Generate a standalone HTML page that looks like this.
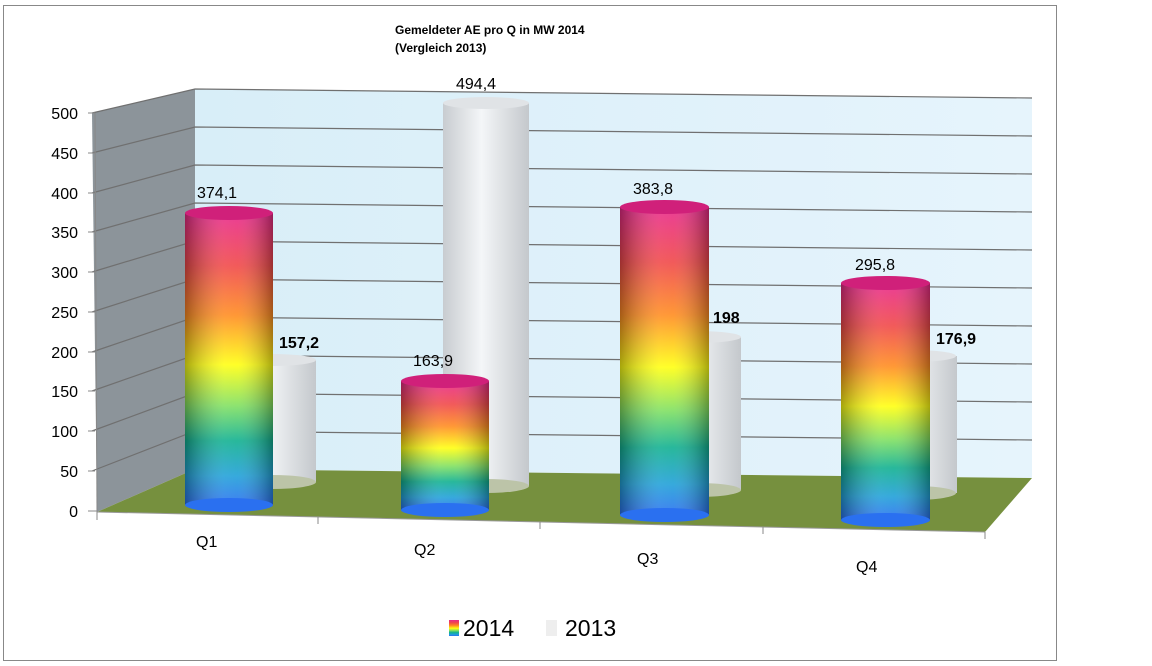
<!DOCTYPE html>
<html><head><meta charset="utf-8"><style>
body{margin:0;background:#fff;}
svg{display:block;font-family:"Liberation Sans",sans-serif;}
</style></head><body>
<svg width="1152" height="666" viewBox="0 0 1152 666">
<defs>
<linearGradient id="rb" x1="0" y1="0" x2="0" y2="1">
<stop offset="0" stop-color="#e8288a"/>
<stop offset="0.18" stop-color="#f04848"/>
<stop offset="0.35" stop-color="#ff8c20"/>
<stop offset="0.52" stop-color="#ffff10"/>
<stop offset="0.66" stop-color="#80e060"/>
<stop offset="0.78" stop-color="#10b090"/>
<stop offset="0.9" stop-color="#20a0d8"/>
<stop offset="1" stop-color="#2a70f0"/>
</linearGradient>
<linearGradient id="sh" x1="0" y1="0" x2="1" y2="0">
<stop offset="0" stop-color="#000" stop-opacity="0.35"/>
<stop offset="0.45" stop-color="#fff" stop-opacity="0.12"/>
<stop offset="0.6" stop-color="#fff" stop-opacity="0.1"/>
<stop offset="1" stop-color="#000" stop-opacity="0.35"/>
</linearGradient>
<linearGradient id="gr" x1="0" y1="0" x2="1" y2="0">
<stop offset="0" stop-color="#c8ccd0"/>
<stop offset="0.45" stop-color="#f4f6f8"/>
<stop offset="1" stop-color="#c4c8cc"/>
</linearGradient>
<linearGradient id="bw" x1="0" y1="0" x2="1" y2="0">
<stop offset="0" stop-color="#d8eef8"/>
<stop offset="1" stop-color="#e6f4fc"/>
</linearGradient>
</defs>
<rect x="3.5" y="5.5" width="1053" height="655" fill="#fff" stroke="#888" stroke-width="1"/>
<text x="395" y="34" font-size="12" font-weight="bold">Gemeldeter AE  pro Q in MW 2014</text>
<text x="395" y="52" font-size="12" font-weight="bold">(Vergleich 2013)</text>
<!-- back wall -->
<polygon points="195,89 1032,98 1032,478 195,469" fill="url(#bw)"/>
<!-- side wall -->
<polygon points="92,113 195,89 195,469 97,512" fill="#8c949a"/>
<!-- floor -->
<polygon points="97,512 195,469 1032,478 985,532" fill="#76903e"/>
<line x1="97" y1="512" x2="985" y2="532" stroke="#999" stroke-width="1"/>
<g stroke="#707070" stroke-width="1.2" fill="none">
<polyline points="92,113 195,89 1032,98"/>
<polyline points="92,153 195,127 1032,136"/>
<polyline points="92,193 195,165 1032,174"/>
<polyline points="92,232 195,203 1032,212"/>
<polyline points="92,272 195,241 1032,250"/>
<polyline points="92,312 195,279 1032,288"/>
<polyline points="92,352 195,317 1032,326"/>
<polyline points="92,391 195,355 1032,364"/>
<polyline points="92,431 195,393 1032,402"/>
<polyline points="92,471 195,431 1032,440"/>
</g>
<line x1="95" y1="113" x2="97" y2="512" stroke="#888"/>
<g stroke="#888"><line x1="88" y1="113" x2="95" y2="113"/><line x1="88" y1="153" x2="95" y2="153"/><line x1="88" y1="193" x2="95" y2="193"/><line x1="88" y1="232" x2="95" y2="232"/><line x1="88" y1="272" x2="95" y2="272"/><line x1="88" y1="312" x2="95" y2="312"/><line x1="88" y1="352" x2="95" y2="352"/><line x1="88" y1="391" x2="95" y2="391"/><line x1="88" y1="431" x2="95" y2="431"/><line x1="88" y1="471" x2="95" y2="471"/><line x1="88" y1="511" x2="97" y2="511"/>
<line x1="97" y1="512" x2="97" y2="520"/><line x1="318" y1="517" x2="318" y2="524"/><line x1="540" y1="522" x2="540" y2="529"/><line x1="763" y1="527" x2="763" y2="534"/><line x1="985" y1="532" x2="985" y2="539"/></g>
<g font-size="16" text-anchor="end" fill="#000">
<text x="78" y="119">500</text><text x="78" y="159">450</text><text x="78" y="199">400</text><text x="78" y="238">350</text><text x="78" y="278">300</text><text x="78" y="318">250</text><text x="78" y="358">200</text><text x="78" y="397">150</text><text x="78" y="437">100</text><text x="78" y="477">50</text><text x="78" y="517">0</text>
</g>
<!-- 2013 cylinders -->
<g>
<rect x="228" y="360" width="88" height="122" fill="url(#gr)"/><ellipse cx="272" cy="482" rx="44" ry="7" fill="#bcc4a8"/><ellipse cx="272" cy="360" rx="44" ry="6" fill="#e0e3e6"/>
<rect x="443" y="103" width="86" height="383" fill="url(#gr)"/><ellipse cx="486" cy="486" rx="43" ry="7" fill="#bcc4a8"/><ellipse cx="486" cy="103" rx="43" ry="6" fill="#e0e3e6"/>
<rect x="653" y="337" width="88" height="153" fill="url(#gr)"/><ellipse cx="697" cy="490" rx="44" ry="7" fill="#bcc4a8"/><ellipse cx="697" cy="337" rx="44" ry="6" fill="#e0e3e6"/>
<rect x="870" y="356" width="87" height="137" fill="url(#gr)"/><ellipse cx="913" cy="493" rx="43" ry="7" fill="#bcc4a8"/><ellipse cx="913" cy="356" rx="43" ry="6" fill="#e0e3e6"/>
</g>
<!-- 2014 cylinders -->
<g>
<rect x="185" y="213" width="88" height="292" fill="url(#rb)"/><rect x="185" y="213" width="88" height="292" fill="url(#sh)"/><ellipse cx="229" cy="505" rx="44" ry="7" fill="#2a70f0"/><ellipse cx="229" cy="213" rx="44" ry="7" fill="#d0207a"/>
<rect x="401" y="381" width="88" height="129" fill="url(#rb)"/><rect x="401" y="381" width="88" height="129" fill="url(#sh)"/><ellipse cx="445" cy="510" rx="44" ry="7" fill="#2a70f0"/><ellipse cx="445" cy="381" rx="44" ry="7" fill="#d0207a"/>
<rect x="620" y="207" width="89" height="308" fill="url(#rb)"/><rect x="620" y="207" width="89" height="308" fill="url(#sh)"/><ellipse cx="664.5" cy="515" rx="44.5" ry="7" fill="#2a70f0"/><ellipse cx="664.5" cy="207" rx="44.5" ry="7" fill="#d0207a"/>
<rect x="841" y="283" width="89" height="237" fill="url(#rb)"/><rect x="841" y="283" width="89" height="237" fill="url(#sh)"/><ellipse cx="885.5" cy="520" rx="44.5" ry="7" fill="#2a70f0"/><ellipse cx="885.5" cy="283" rx="44.5" ry="7" fill="#d0207a"/>
</g>
<g font-size="16" fill="#000">
<text x="197" y="198">374,1</text>
<text x="279" y="348" font-weight="bold">157,2</text>
<text x="413" y="366">163,9</text>
<text x="456" y="89">494,4</text>
<text x="633" y="194">383,8</text>
<text x="713" y="323" font-weight="bold">198</text>
<text x="855" y="270">295,8</text>
<text x="936" y="344" font-weight="bold">176,9</text>
</g>
<g font-size="16" fill="#000">
<text x="196" y="547">Q1</text><text x="414" y="555">Q2</text><text x="637" y="564">Q3</text><text x="856" y="572">Q4</text>
</g>
<rect x="449" y="620" width="10" height="16" fill="url(#rb)"/>
<text x="463" y="636" font-size="23">2014</text>
<rect x="546" y="620" width="11" height="16" fill="#eeeeee"/>
<text x="565" y="636" font-size="23">2013</text>
</svg>
</body></html>
